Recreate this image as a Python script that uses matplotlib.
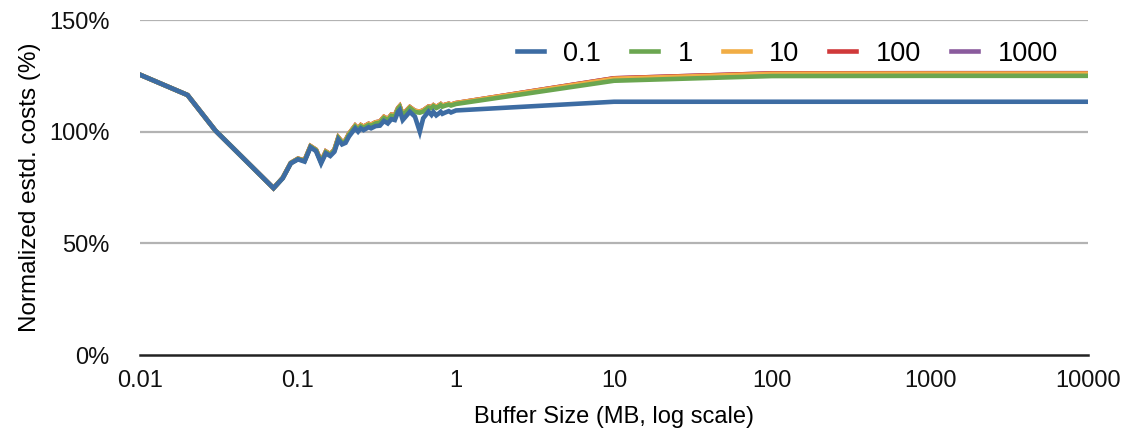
import matplotlib
matplotlib.use("Agg")
import matplotlib.pyplot as plt
from matplotlib.ticker import FixedLocator, FixedFormatter

plt.rcParams['font.family'] = ['Liberation Sans', 'DejaVu Sans']

# buffer sizes (MB) up to 1 MB, where the curves are noisy
small_mb = [0.01, 0.02, 0.03, 0.07, 0.08, 0.09, 0.10, 0.11, 0.12, 0.13,
            0.14, 0.15, 0.16, 0.17, 0.18, 0.19, 0.20, 0.21, 0.23, 0.24,
            0.25, 0.26, 0.28, 0.29, 0.31, 0.33, 0.35, 0.37, 0.39, 0.41,
            0.43, 0.44, 0.46, 0.51, 0.55, 0.59, 0.62, 0.67, 0.70, 0.72,
            0.75, 0.77, 0.80, 0.82, 0.85, 0.90, 0.93, 1.00]
large_mb = [10, 100, 1000, 10000]

small_01 = [125.5, 116.4, 100.5, 74.7, 79.1, 85.8, 87.6, 86.6, 93.0, 91.3,
            85.8, 90.3, 89.1, 91.0, 96.5, 94.3, 95.0, 97.8, 101.5, 100.0,
            101.5, 100.7, 102.0, 101.5, 102.5, 102.7, 104.8, 103.7, 105.6, 105.2,
            108.9, 109.7, 105.2, 108.9, 106.7, 100.0, 106.0, 109.0, 107.5, 108.8,
            107.3, 107.9, 108.9, 108.0, 108.5, 109.2, 108.6, 109.5]
small_1 = [125.5, 116.4, 100.5, 74.7, 79.2, 85.9, 87.8, 86.9, 93.3, 91.7,
           86.3, 90.8, 89.6, 91.6, 97.1, 95.0, 95.7, 98.6, 102.3, 100.9,
           102.4, 101.7, 103.0, 102.6, 103.7, 104.0, 106.1, 105.1, 107.1, 106.8,
           110.2, 111.0, 107.2, 110.6, 108.8, 108.5, 109.0, 110.8, 110.5, 111.4,
           110.6, 111.0, 111.9, 111.2, 111.6, 112.1, 111.7, 112.4]
small_10 = [125.5, 116.4, 100.5, 74.7, 79.3, 86.0, 87.9, 87.1, 93.5, 91.9,
            86.6, 91.1, 89.9, 91.9, 97.4, 95.4, 96.1, 99.0, 102.7, 101.4,
            102.9, 102.2, 103.5, 103.1, 104.2, 104.5, 106.6, 105.6, 107.6, 107.3,
            110.6, 111.4, 107.7, 111.0, 109.3, 109.0, 109.5, 111.2, 111.0, 111.8,
            111.0, 111.5, 112.3, 111.6, 112.0, 112.5, 112.1, 112.8]

large_01 = [113.4, 113.4, 113.4, 113.4]
large_1 = [122.8, 124.9, 125.0, 125.0]
large_10 = [123.7, 125.9, 126.0, 126.0]
large_100 = [123.9, 126.1, 126.1, 126.1]
large_1000 = [123.9, 126.1, 126.2, 126.2]

series_names = ['0.1', '1', '10', '100', '1000']
series_values = [small_01 + large_01,
                 small_1 + large_1,
                 small_10 + large_10,
                 small_10 + large_100,
                 small_10 + large_1000]
colors = ['#3D6CA3', '#6BA650', '#F1AD45', '#D0393A', '#8A5B9D']

x_ticks = [0.01, 0.1, 1, 10, 100, 1000, 10000]
x_tick_labels = ['0.01', '0.1', '1', '10', '100', '1000', '10000']
y_ticks = [0, 50, 100, 150]
y_tick_labels = ['0%', '50%', '100%', '150%']

buffer_mb = small_mb + large_mb

fig = plt.figure(figsize=(11.29, 4.36), dpi=100)
ax = fig.add_axes([140 / 1129, 1 - 355 / 436, 948 / 1129, 335 / 436])

# draw in reverse so the 0.1 series ends on top
for name, vals, col in reversed(list(zip(series_names, series_values, colors))):
    ax.plot(buffer_mb, vals, color=col, linewidth=3.3, label=name,
            solid_joinstyle='miter', zorder=3)

ax.set_xscale('log')
ax.set_xlim(0.01, 10000)
ax.set_ylim(0, 150)
ax.xaxis.set_major_locator(FixedLocator(x_ticks))
ax.xaxis.set_major_formatter(FixedFormatter(x_tick_labels))
ax.xaxis.set_minor_locator(FixedLocator([]))
ax.set_yticks(y_ticks)
ax.set_yticklabels(y_tick_labels)
ax.tick_params(axis='both', length=0, labelsize=17, colors='#111111')
ax.tick_params(axis='x', pad=11)
ax.tick_params(axis='y', pad=22)

for y in [50, 100, 150]:
    ax.axhline(y, color='#B3B3B3', linewidth=1.6, zorder=1)

for side in ['top', 'right', 'left']:
    ax.spines[side].set_visible(False)
ax.spines['bottom'].set_color('#222222')
ax.spines['bottom'].set_linewidth(1.8)

ax.set_xlabel('Buffer Size (MB, log scale)', fontsize=17, labelpad=10)
ax.set_ylabel('Normalized estd. costs (%)', fontsize=17.5, labelpad=6)

handles, labels = ax.get_legend_handles_labels()
ax.legend(handles[::-1], labels[::-1], ncol=5, frameon=False, fontsize=19.5,
          loc='center right', bbox_to_anchor=(0.968, 0.899),
          borderaxespad=0, borderpad=0, handlelength=1.0,
          handletextpad=0.72, columnspacing=1.1)

fig.savefig('out.png', dpi=100)
